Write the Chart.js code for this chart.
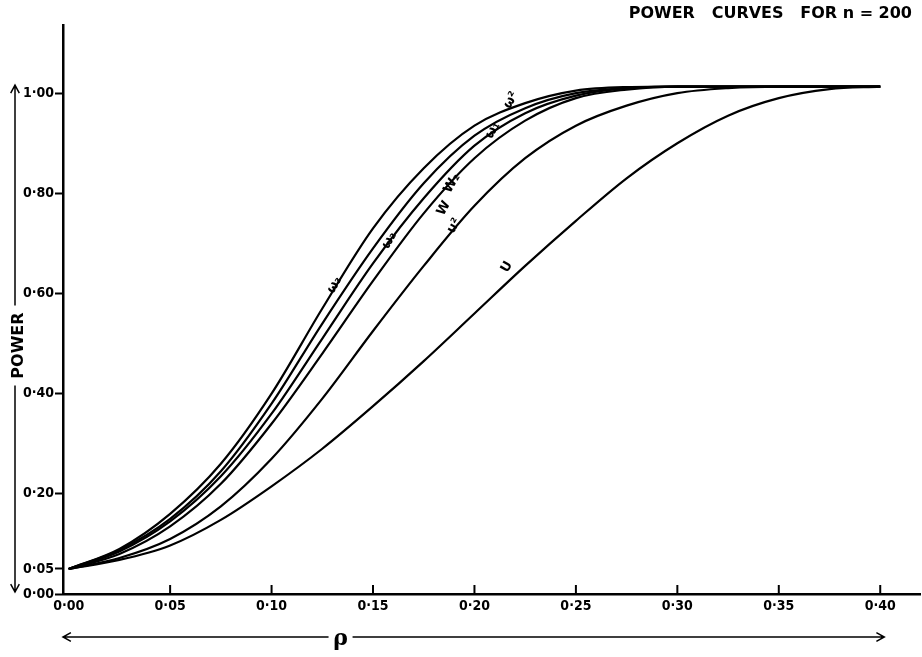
<!DOCTYPE html>
<html>
<head>
<meta charset="utf-8">
<script src="https://cdn.jsdelivr.net/npm/chart.js@4"></script>
<style>
  html, body { margin: 0; padding: 0; background: #fff; }
  #wrap { width: 922px; height: 657px; }
</style>
</head>
<body>
<div id="wrap"><canvas id="powerChart" width="922" height="657"></canvas></div>
<script>
// rho values where the curves were read
const rhoValues = [0, 0.025, 0.05, 0.075, 0.10, 0.125, 0.15, 0.175, 0.20, 0.225, 0.25, 0.275, 0.30, 0.325, 0.35, 0.375, 0.40]

// power for each curve, top to bottom
const curveA = [0.05, 0.09, 0.16, 0.26, 0.40, 0.57, 0.73, 0.85, 0.935, 0.98, 1.005, 1.012, 1.013, 1.013, 1.013, 1.013, 1.013]
const curveB = [0.05, 0.088, 0.15, 0.245, 0.38, 0.54, 0.69, 0.82, 0.915, 0.97, 1.0, 1.01, 1.013, 1.013, 1.013, 1.013, 1.013]
const curveC = [0.05, 0.085, 0.145, 0.235, 0.36, 0.51, 0.66, 0.79, 0.895, 0.96, 0.995, 1.01, 1.013, 1.013, 1.013, 1.013, 1.013]
const curveD = [0.05, 0.08, 0.135, 0.22, 0.34, 0.48, 0.625, 0.76, 0.87, 0.945, 0.99, 1.007, 1.013, 1.013, 1.013, 1.013, 1.013]
const curveE = [0.05, 0.072, 0.11, 0.175, 0.27, 0.39, 0.525, 0.655, 0.775, 0.87, 0.935, 0.975, 1.0, 1.01, 1.013, 1.013, 1.013]
const curveU = [0.05, 0.068, 0.097, 0.148, 0.215, 0.29, 0.375, 0.465, 0.56, 0.655, 0.745, 0.83, 0.9, 0.955, 0.99, 1.008, 1.013]

const xTickValues = [0, 0.05, 0.10, 0.15, 0.20, 0.25, 0.30, 0.35, 0.40]
const yTickValues = [0, 0.05, 0.20, 0.40, 0.60, 0.80, 1.00]

// curve labels written along the lines
const curveLabelText = ['ω₃', 'ω₂', 'W₂', 'W', 'u²', 'U', 'ω₁', 'ω²']
const curveLabelX = [0.131, 0.158, 0.189, 0.185, 0.19, 0.216, 0.209, 0.218]
const curveLabelY = [0.617, 0.706, 0.82, 0.77, 0.735, 0.653, 0.926, 0.986]

const titleText = 'POWER   CURVES   FOR n = 200'
const yTitle = 'POWER'
const xTitle = 'ρ'

function fmt(v) {
    return v.toFixed(2).replace('.', '·')
}

function toPoints(values) {
    return rhoValues.map((x, i) => ({ x: x, y: values[i] }))
}

function arrow(ctx, x1, y1, x2, y2) {
    const a = Math.atan2(y2 - y1, x2 - x1)
    ctx.beginPath()
    ctx.moveTo(x1, y1)
    ctx.lineTo(x2, y2)
    ctx.moveTo(x2 - 9 * Math.cos(a - 0.5), y2 - 9 * Math.sin(a - 0.5))
    ctx.lineTo(x2, y2)
    ctx.lineTo(x2 - 9 * Math.cos(a + 0.5), y2 - 9 * Math.sin(a + 0.5))
    ctx.stroke()
}

const decorPlugin = {
    id: 'decor',
    afterDraw(chart) {
        const ctx = chart.ctx
        const xs = chart.scales.x
        const ys = chart.scales.y
        const area = chart.chartArea
        ctx.save()
        ctx.strokeStyle = '#000'
        ctx.fillStyle = '#000'

        // inward ticks on the x axis
        ctx.lineWidth = 2
        xTickValues.forEach(v => {
            if (v === 0) return
            const px = xs.getPixelForValue(v)
            ctx.beginPath()
            ctx.moveTo(px, area.bottom)
            ctx.lineTo(px, area.bottom - 9)
            ctx.stroke()
        })

        // title
        ctx.font = 'bold 16px "DejaVu Sans", sans-serif'
        ctx.textAlign = 'right'
        ctx.textBaseline = 'middle'
        ctx.fillText(titleText, chart.width - 10, 14)

        // y axis title with arrows
        const ty = (ys.getPixelForValue(0) + ys.getPixelForValue(1)) / 2 + 2
        ctx.save()
        ctx.translate(19, ty)
        ctx.rotate(-Math.PI / 2)
        ctx.font = 'bold 16px "DejaVu Sans", sans-serif'
        ctx.textAlign = 'center'
        ctx.fillText(yTitle, 0, 0)
        ctx.restore()
        ctx.lineWidth = 1.5
        arrow(ctx, 15, ty - 40, 15, ys.getPixelForValue(1) - 8)
        arrow(ctx, 15, ty + 40, 15, ys.getPixelForValue(0) - 2)

        // x axis title with arrows
        const tx = xs.getPixelForValue(0.134)
        const by = chart.height - 20
        ctx.font = 'bold 22px "DejaVu Serif", serif'
        ctx.textAlign = 'center'
        ctx.fillText(xTitle, tx, by + 2)
        arrow(ctx, tx - 12, by, area.left, by)
        arrow(ctx, tx + 12, by, xs.getPixelForValue(0.402), by)

        // curve labels
        ctx.font = 'bold 13px "DejaVu Sans", sans-serif'
        curveLabelText.forEach((t, i) => {
            ctx.save()
            ctx.translate(xs.getPixelForValue(curveLabelX[i]), ys.getPixelForValue(curveLabelY[i]))
            ctx.rotate(-Math.PI / 3)
            ctx.textAlign = 'center'
            ctx.fillText(t, 0, 0)
            ctx.restore()
        })
        ctx.restore()
    }
}

const lineStyle = {
    borderColor: '#000',
    borderWidth: 2.2,
    pointRadius: 0,
    fill: false,
    cubicInterpolationMode: 'monotone'
}

new Chart(document.getElementById('powerChart').getContext('2d'), {
    type: 'line',
    plugins: [decorPlugin],
    data: {
        datasets: [
            { label: 'A', data: toPoints(curveA), ...lineStyle },
            { label: 'B', data: toPoints(curveB), ...lineStyle },
            { label: 'C', data: toPoints(curveC), ...lineStyle },
            { label: 'D', data: toPoints(curveD), ...lineStyle },
            { label: 'E', data: toPoints(curveE), ...lineStyle },
            { label: 'U', data: toPoints(curveU), ...lineStyle }
        ]
    },
    options: {
        responsive: false,
        animation: false,
        layout: { padding: { top: 25, right: 2, left: 0, bottom: 0 } },
        plugins: {
            legend: { display: false },
            tooltip: { enabled: false }
        },
        scales: {
            x: {
                type: 'linear',
                min: -0.0028,
                max: 0.4196,
                afterBuildTicks: (scale) => { scale.ticks = xTickValues.map(v => ({ value: v })) },
                afterFit: (scale) => { scale.height = 63 },
                grid: { drawOnChartArea: false, drawTicks: false },
                border: { color: '#000', width: 2.5 },
                ticks: {
                    padding: 4,
                    color: '#000',
                    maxRotation: 0,
                    font: { family: '"DejaVu Sans Condensed", "DejaVu Sans", sans-serif', size: 14, weight: 'bold' },
                    callback: (v) => fmt(v)
                }
            },
            y: {
                type: 'linear',
                min: 0,
                max: 1.136,
                afterBuildTicks: (scale) => { scale.ticks = yTickValues.map(v => ({ value: v })) },
                afterFit: (scale) => { scale.width = 63 },
                grid: { drawOnChartArea: false, tickLength: 8, tickColor: '#000', tickWidth: 2 },
                border: { color: '#000', width: 2.5 },
                ticks: {
                    padding: 1,
                    color: '#000',
                    font: { family: '"DejaVu Sans Condensed", "DejaVu Sans", sans-serif', size: 14, weight: 'bold' },
                    callback: (v) => fmt(v)
                }
            }
        }
    }
})
</script>
</body>
</html>
